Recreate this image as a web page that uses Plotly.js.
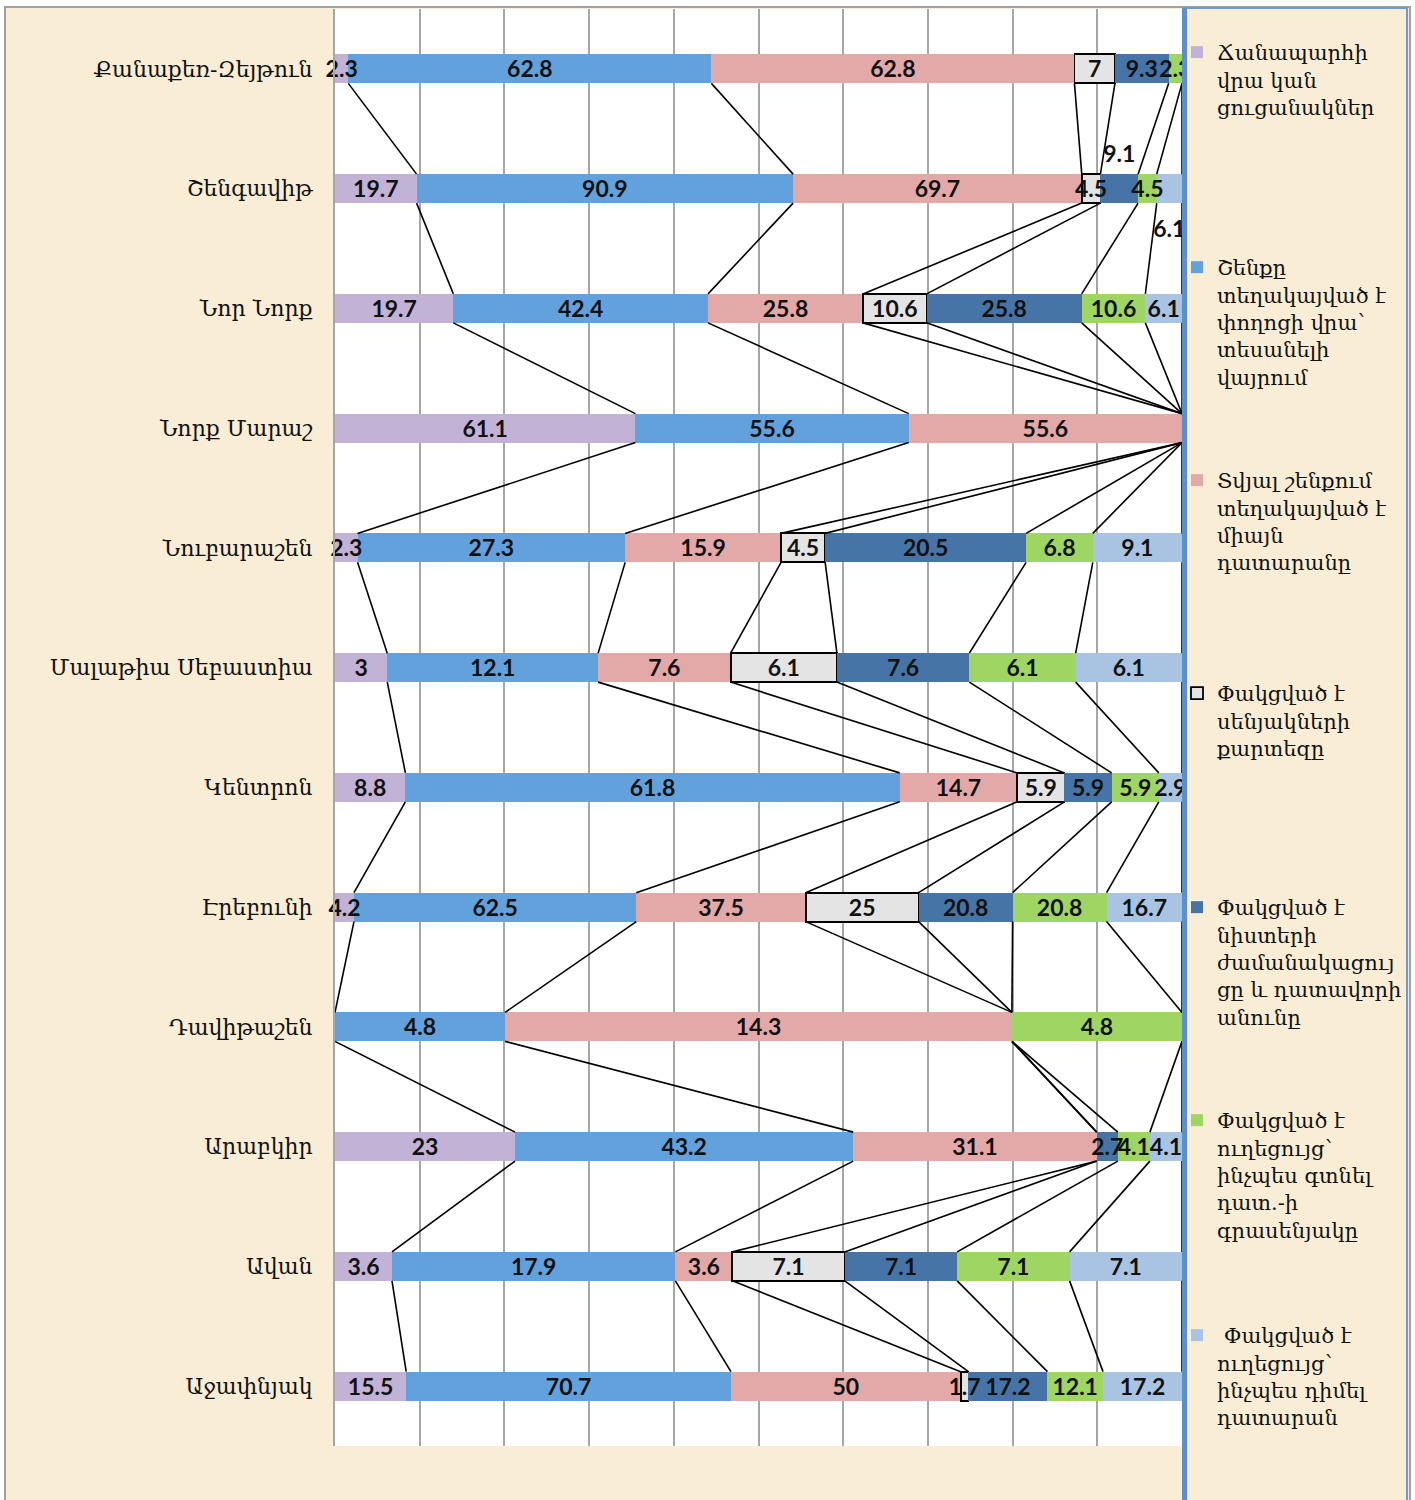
<!DOCTYPE html>
<html>
<head>
<meta charset="utf-8">
<script src="https://cdn.plot.ly/plotly-3.0.1.min.js"></script>
<style>
  body { margin: 0; background: #fff; }
  #chart { width: 1415px; height: 1500px; }
</style>
</head>
<body>
<div id="chart"></div>
<script>
//
// Court signage survey by district, 100% stacked bars with series lines.
//

const districts = ['Քանաքեռ-Զեյթուն', 'Շենգավիթ', 'Նոր Նորք', 'Նորք Մարաշ',
                   'Նուբարաշեն', 'Մալաթիա Սեբաստիա', 'Կենտրոն', 'Էրեբունի',
                   'Դավիթաշեն', 'Արաբկիր', 'Ավան', 'Աջափնյակ'];

// one array per series, in district order (null = blank cell)
const roadSigns  = [2.3, 19.7, 19.7, 61.1, 2.3, 3, 8.8, 4.2, null, 23, 3.6, 15.5];
const visibleBld = [62.8, 90.9, 42.4, 55.6, 27.3, 12.1, 61.8, 62.5, 4.8, 43.2, 17.9, 70.7];
const courtOnly  = [62.8, 69.7, 25.8, 55.6, 15.9, 7.6, 14.7, 37.5, 14.3, 31.1, 3.6, 50];
const roomMap    = [7, 4.5, 10.6, null, 4.5, 6.1, 5.9, 25, null, null, 7.1, 1.7];
const schedule   = [9.3, 9.1, 25.8, null, 20.5, 7.6, 5.9, 20.8, null, 2.7, 7.1, 17.2];
const guideFind  = [2.3, 4.5, 10.6, null, 6.8, 6.1, 5.9, 20.8, 4.8, 4.1, 7.1, 12.1];
const guideApply = [null, 6.1, 6.1, null, 9.1, 6.1, 2.9, 16.7, null, 4.1, 7.1, 17.2];

const seriesNames = [
    'Ճանապարհի<br>վրա կան<br>ցուցանակներ',
    'Շենքը<br>տեղակայված է<br>փողոցի վրա՝<br>տեսանելի<br>վայրում',
    'Տվյալ շենքում<br>տեղակայված է<br>միայն<br>դատարանը',
    'Փակցված է<br>սենյակների<br>քարտեզը',
    'Փակցված է<br>նիստերի<br>ժամանակացույ<br>ցը և դատավորի<br>անունը',
    'Փակցված է<br>ուղեցույց՝<br>ինչպես գտնել<br>դատ.-ի<br>գրասենյակը',
    ' Փակցված է<br>ուղեցույց՝<br>ինչպես դիմել<br>դատարան'
];

const series = [roadSigns, visibleBld, courtOnly, roomMap, schedule, guideFind, guideApply];
const colors = ['#c2b2d6', '#63a1dd', '#e2a9a8', '#e4e4e4', '#4674a6', '#9fd563', '#a8c4e2'];

const BARW = 0.242;
const PARCH = '#f9eed5';
const LBLFONT = {family: 'Lato, sans-serif', size: 23, color: '#111', weight: 'bold'};
const ARMFONT = 'DejaVu Serif, DejaVu Sans, serif';
const LBL_DY = 0.022;   // labels sit a touch below the bar centre

// a few labels were moved off the bar in the original (series, district) -> y offset
const labelNudge = {'4,1': -0.29, '6,1': 0.33};

const yIdx = districts.map((d, i) => i);

// cumulative percent at the end of every series for every district
const totals = yIdx.map(i => series.reduce((a, s) => a + (s[i] || 0), 0));
const cum = yIdx.map(i => {
    let c = 0;
    return series.map(s => { c += (s[i] || 0); return c / totals[i] * 100; });
});

const data = [];

series.forEach((s, k) => {
    const isBox = (k === 3);
    data.push({
        type: 'bar', orientation: 'h',
        x: s, y: yIdx, width: BARW,
        name: seriesNames[k],
        legend: k === 0 ? 'legend' : 'legend' + (k + 1),
        marker: {color: colors[k],
                 line: {color: '#000', width: isBox ? 1.8 : 0}},
        hoverinfo: 'skip'
    });
});

// series lines: bottom of one bar to top of the next, at each series end
const lx = [], ly = [];
for (let i = 0; i < districts.length - 1; i++) {
    for (let k = 0; k < series.length; k++) {
        lx.push(cum[i][k], cum[i + 1][k], null);
        ly.push(i + BARW / 2, i + 1 - BARW / 2, null);
    }
}
data.push({type: 'scatter', mode: 'lines', x: lx, y: ly,
           line: {color: '#000', width: 1.6},
           showlegend: false, hoverinfo: 'skip'});

// data labels, centred in each segment
const tx = [], ty = [], tt = [];
series.forEach((s, k) => {
    s.forEach((v, i) => {
        if (v === null) { return; }
        const start = k === 0 ? 0 : cum[i][k - 1];
        tx.push((start + cum[i][k]) / 2);
        ty.push(i + LBL_DY + (labelNudge[k + ',' + i] || 0));
        tt.push(String(v));
    });
});
data.push({type: 'scatter', mode: 'text', x: tx, y: ty, text: tt,
           textposition: 'middle center', textfont: LBLFONT,
           cliponaxis: false, showlegend: false, hoverinfo: 'skip'});

// pixel helpers for shapes / legends (plot area: x 335..1182, y 9..1446)
const PL = 335, PW = 847, PT = 9, PH = 1437;
const px = (v) => (v - PL) / PW;
const py = (v) => (PT + PH - v) / PH;

const legendTops = [32, 247, 460, 673, 887, 1100, 1315];
const layout = {
    width: 1415, height: 1500,
    margin: {l: PL, r: 1415 - PL - PW, t: PT, b: 1500 - PT - PH, autoexpand: false},
    paper_bgcolor: '#ffffff',
    plot_bgcolor: '#ffffff',
    barmode: 'stack', barnorm: 'percent',
    xaxis: {range: [0, 100], tick0: 0, dtick: 10, showgrid: true,
            gridcolor: '#a6a6a6', gridwidth: 2, zeroline: false,
            showticklabels: false, fixedrange: true},
    yaxis: {range: [11.5, -0.5], tickvals: yIdx, ticktext: districts,
            showgrid: false, zeroline: false, showline: true,
            linecolor: '#a6a6a6', linewidth: 2, ticks: '',
            ticklabelstandoff: 16,
            tickfont: {family: ARMFONT, size: 22, color: '#111'},
            fixedrange: true},
    showlegend: true,
    shapes: [
        {type: 'rect', xref: 'paper', yref: 'paper', layer: 'below',
         x0: px(5), x1: px(1410), y0: py(1510), y1: py(7),
         fillcolor: PARCH, line: {color: '#a0a0a0', width: 2}},
        {type: 'rect', xref: 'paper', yref: 'paper', layer: 'below',
         x0: 0, x1: 1, y0: 0, y1: 1,
         fillcolor: '#ffffff', line: {width: 0}},
        // legend panel sits over the plot's right edge and hides overflowing labels
        {type: 'rect', xref: 'paper', yref: 'paper', layer: 'above',
         x0: px(1184), x1: px(1407), y0: py(1510), y1: py(8),
         fillcolor: PARCH, line: {color: '#6d9bd1', width: 2}},
        {type: 'line', xref: 'paper', yref: 'paper', layer: 'above',
         x0: px(1184.5), x1: px(1184.5), y0: py(1510), y1: py(8),
         line: {color: '#5d8fce', width: 5}}
    ]
};

legendTops.forEach((top, k) => {
    const key = k === 0 ? 'legend' : 'legend' + (k + 1);
    layout[key] = {x: px(1177), y: py(top), xanchor: 'left', yanchor: 'top',
                   bgcolor: 'rgba(0,0,0,0)', borderwidth: 0,
                   valign: 'top', itemwidth: 30,
                   font: {family: ARMFONT, size: 21, color: '#111'}};
});

Plotly.newPlot('chart', data, layout, {displayModeBar: false, staticPlot: true});
</script>
</body>
</html>
